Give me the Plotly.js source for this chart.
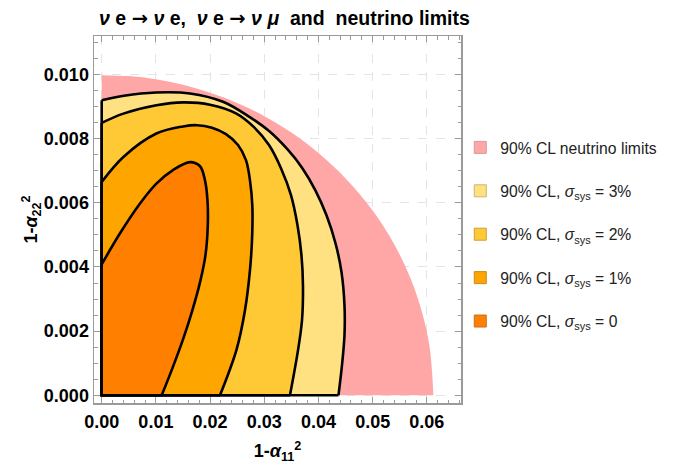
<!DOCTYPE html>
<html>
<head>
<meta charset="utf-8">
<script src="https://cdn.plot.ly/plotly-3.0.1.min.js"></script>
<style>html,body{margin:0;padding:0;background:#fff;}#chart{width:683px;height:464px;}</style>
</head>
<body>
<div id="chart"></div>
<script>
// ---- data (x = 1-α11², y = 1-α22²) ----
// 90% CL neutrino limits: outer boundary, from the y axis to the x axis
var limitX = [0, 0.005, 0.010, 0.015, 0.020, 0.025, 0.030, 0.035, 0.040, 0.045, 0.050, 0.054, 0.057, 0.059, 0.0605, 0.0612];
var limitY = [0.00998, 0.00995, 0.00985, 0.00968, 0.00943, 0.00911, 0.00870, 0.00819, 0.00755, 0.00676, 0.00576, 0.00470, 0.00364, 0.00265, 0.00151, 0];

// σsys = 3%
var sys3X = [0, 0.00411, 0.01002, 0.01629, 0.02238, 0.02725, 0.03094, 0.03426, 0.03703, 0.03943, 0.04148, 0.04314, 0.04425, 0.0448, 0.0448, 0.04434, 0.04369];
var sys3Y = [0.00920, 0.00934, 0.00944, 0.00941, 0.00915, 0.00868, 0.00823, 0.00767, 0.00708, 0.00639, 0.00561, 0.00474, 0.00384, 0.00281, 0.00187, 0.00094, 0];

// σsys = 2%
var sys2X = [0, 0.0040, 0.01009, 0.0150, 0.01998, 0.02478, 0.02810, 0.03087, 0.03308, 0.03493, 0.03613, 0.03686, 0.03714, 0.03696, 0.03622, 0.03474];
var sys2Y = [0.00849, 0.00878, 0.00904, 0.00913, 0.00906, 0.00879, 0.00836, 0.00780, 0.00708, 0.00624, 0.00530, 0.00437, 0.00343, 0.00234, 0.00140, 0];

// σsys = 1%
var sys1X = [0, 0.0040, 0.01009, 0.0150, 0.01758, 0.02035, 0.02293, 0.02515, 0.02662, 0.02736, 0.02779, 0.02777, 0.02736, 0.02644, 0.02491, 0.02183];
var sys1Y = [0.00665, 0.00743, 0.00816, 0.00838, 0.00842, 0.00834, 0.00814, 0.00780, 0.00733, 0.00670, 0.00592, 0.00499, 0.00390, 0.00265, 0.00144, 0];

// σsys = 0
var sys0X = [0, 0.00338, 0.00707, 0.01009, 0.01315, 0.01629, 0.01814, 0.01906, 0.01952, 0.01958, 0.01915, 0.01814, 0.01673, 0.01504, 0.01304, 0.01107];
var sys0Y = [0.00408, 0.00505, 0.00598, 0.00660, 0.00702, 0.00727, 0.00714, 0.00670, 0.00608, 0.00530, 0.00437, 0.00352, 0.00265, 0.00176, 0.00084, 0];

var names = ['90% CL neutrino limits',
             '90% CL, <i>σ</i><sub>sys</sub> = 3%',
             '90% CL, <i>σ</i><sub>sys</sub> = 2%',
             '90% CL, <i>σ</i><sub>sys</sub> = 1%',
             '90% CL, <i>σ</i><sub>sys</sub> = 0'];
var fills = ['#ffa6a6', '#ffe182', '#ffc935', '#ffa500', '#ff8000'];
var edges = ['#d99a9a', '#cdb56a', '#c9a03a', '#c98a20', '#c9701a'];

var sets = [[limitX, limitY], [sys3X, sys3Y], [sys2X, sys2Y], [sys1X, sys1Y], [sys0X, sys0Y]];
var traces = [];
// filled regions: boundary curve, filled across to the y axis (x = 0)
sets.forEach(function (s, i) {
  traces.push({
    type: 'scatter', mode: 'lines', x: s[0], y: s[1],
    fill: 'tozerox', fillcolor: fills[i],
    line: {color: i === 0 ? 'rgba(0,0,0,0)' : '#000', width: i === 0 ? 0 : 2.6,
           shape: 'spline', smoothing: 1},
    showlegend: false, hoverinfo: 'skip'
  });
});
// black edges of the regions along the two axes
sets.slice(1).forEach(function (s) {
  traces.push({
    type: 'scatter', mode: 'lines',
    x: [0, 0, s[0][s[0].length - 1]], y: [s[1][0], 0, 0],
    line: {color: '#000', width: 2.6}, showlegend: false, hoverinfo: 'skip'
  });
});
// legend entries
names.forEach(function (n, i) {
  traces.push({
    type: 'scatter', mode: 'markers', x: [null], y: [null], name: n,
    legendgroup: 'g' + i,
    marker: {symbol: 'square', size: 12, color: fills[i], line: {color: edges[i], width: 1}}
  });
});

var axisCommon = {
  showline: true, linecolor: '#9a9a9a', linewidth: 1.5, mirror: 'ticks',
  ticks: 'inside', ticklen: 6, tickwidth: 1, tickcolor: '#9a9a9a',
  showgrid: true, gridcolor: '#e4e4e4', griddash: 'dash', gridwidth: 1,
  zeroline: false,
  tickfont: {family: 'Liberation Sans, Arial, sans-serif', size: 18, color: '#000', weight: 'bold'}
};

var arrow = '<span style="font-family:DejaVu Sans">→</span>';
var layout = {
  width: 683, height: 464,
  margin: {l: 94, r: 222, t: 36, b: 61},
  paper_bgcolor: '#fff', plot_bgcolor: '#fff',
  title: {text: '<b><i>ν</i> e ' + arrow + ' <i>ν</i> e,  <i>ν</i> e ' + arrow + ' <i>ν</i> <i>μ</i>  and  neutrino limits</b>',
          font: {family: 'Liberation Sans, Arial, sans-serif', size: 19.5, color: '#000'},
          x: 0.4165, xanchor: 'center', y: 0.961, yanchor: 'middle'},
  xaxis: Object.assign({}, axisCommon, {
    range: [-0.00142, 0.0663], dtick: 0.01, tick0: 0, tickformat: '.2f',
    ticklabelstandoff: 2,
    minor: {ticks: 'inside', ticklen: 3.5, dtick: 0.002, tick0: 0, tickcolor: '#9a9a9a', showgrid: false},
    title: {text: '<b>1-<i>α</i><sub>11</sub><sup>2</sup></b>', standoff: 21,
            font: {family: 'Liberation Sans, Arial, sans-serif', size: 18, color: '#000'}}
  }),
  yaxis: Object.assign({}, axisCommon, {
    range: [-0.00024, 0.0112], dtick: 0.002, tick0: 0, tickformat: '.3f',
    minor: {ticks: 'inside', ticklen: 3.5, dtick: 0.0005, tick0: 0, tickcolor: '#9a9a9a', showgrid: false},
    title: {text: '<b>1-<i>α</i><sub>22</sub><sup>2</sup></b>', standoff: 0,
            font: {family: 'Liberation Sans, Arial, sans-serif', size: 18, color: '#000'}}
  }),
  showlegend: true,
  legend: {x: 0.998, xanchor: 'left', y: 0.742, yanchor: 'top', tracegroupgap: 20,
           itemwidth: 30, bgcolor: 'rgba(0,0,0,0)',
           font: {family: 'Liberation Sans, Arial, sans-serif', size: 15.7, color: '#222'}}
};

Plotly.newPlot('chart', traces, layout, {displayModeBar: false, staticPlot: true});
</script>
</body>
</html>
